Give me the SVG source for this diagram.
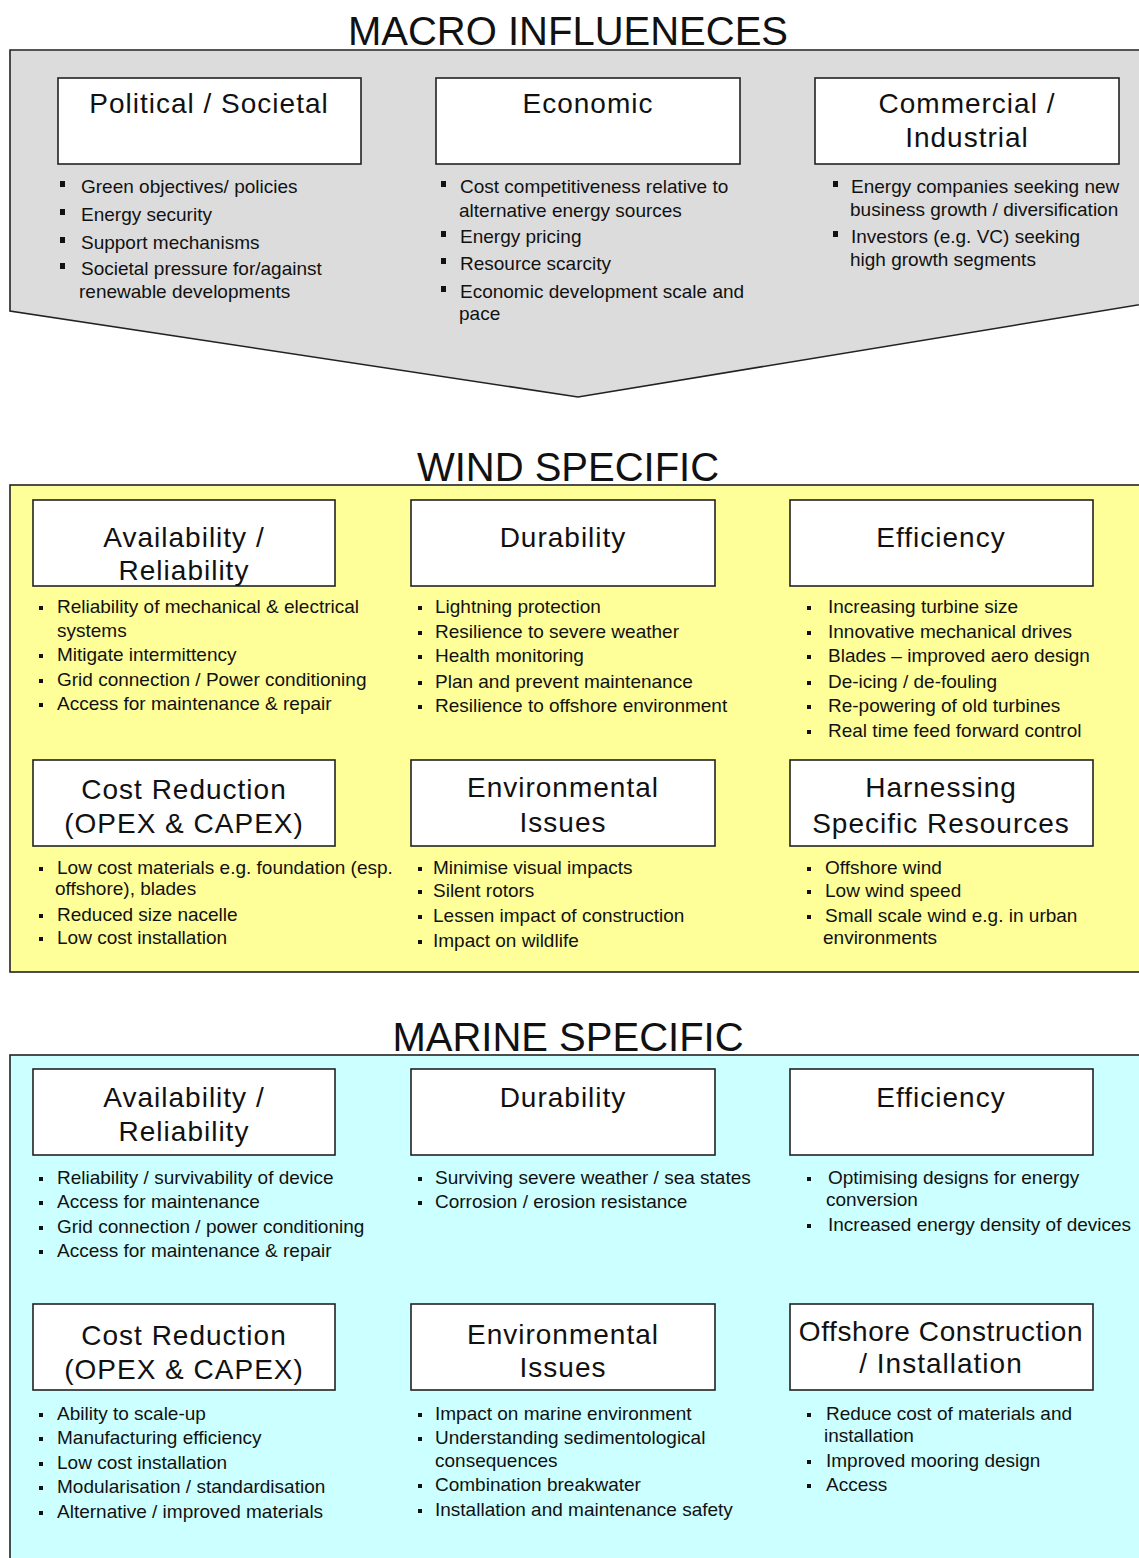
<svg xmlns="http://www.w3.org/2000/svg" width="1139" height="1558" viewBox="0 0 1139 1558">
<style>
text{font-family:"Liberation Sans",Arial,sans-serif;fill:#111}
.h{font-size:40px;text-anchor:middle}
.t{font-size:28px;text-anchor:middle;letter-spacing:1px}
.b{font-size:19px}
.box{fill:#fff;stroke:#222;stroke-width:1.6}
.sec{stroke:#222;stroke-width:1.6}
.d{fill:#111}
</style>
<rect width="1139" height="1558" fill="#fff"/>

<g id="macro">
<text class="h" x="568" y="45">MACRO INFLUENECES</text>
<polygon class="sec" fill="#DCDCDC" points="10,50 1150,50 1150,303 578,397 10,311"/>
</g>

<g id="macro-political">
<rect class="box" x="58" y="78" width="303" height="86"/>
<text class="t" x="209" y="113">Political / Societal</text>
<rect class="d" x="60" y="181" width="5" height="6"/>
<rect class="d" x="60" y="209" width="5" height="6"/>
<rect class="d" x="60" y="237" width="5" height="6"/>
<rect class="d" x="60" y="263" width="5" height="6"/>
<text class="b" x="81" y="193">Green objectives/ policies</text>
<text class="b" x="81" y="221">Energy security</text>
<text class="b" x="81" y="249">Support mechanisms</text>
<text class="b" x="81" y="275">Societal pressure for/against</text>
<text class="b" x="79" y="298">renewable developments</text>
</g>

<g id="macro-economic">
<rect class="box" x="436" y="78" width="304" height="86"/>
<text class="t" x="588" y="113">Economic</text>
<rect class="d" x="441" y="181" width="5" height="6"/>
<rect class="d" x="441" y="231" width="5" height="6"/>
<rect class="d" x="441" y="258" width="5" height="6"/>
<rect class="d" x="441" y="286" width="5" height="6"/>
<text class="b" x="460" y="193">Cost  competitiveness relative to</text>
<text class="b" x="459" y="217">alternative energy sources</text>
<text class="b" x="460" y="243">Energy pricing</text>
<text class="b" x="460" y="270">Resource scarcity</text>
<text class="b" x="460" y="298">Economic development  scale and</text>
<text class="b" x="459" y="320">pace</text>
</g>

<g id="macro-commercial">
<rect class="box" x="815" y="78" width="304" height="86"/>
<text class="t" x="967" y="113">Commercial /</text>
<text class="t" x="967" y="147">Industrial</text>
<rect class="d" x="833" y="181" width="5" height="6"/>
<rect class="d" x="833" y="231" width="5" height="6"/>
<text class="b" x="851" y="193">Energy companies seeking new</text>
<text class="b" x="850" y="216">business growth / diversification</text>
<text class="b" x="851" y="243">Investors (e.g. VC) seeking</text>
<text class="b" x="850" y="266">high growth segments</text>
</g>

<g id="wind">
<text class="h" x="568" y="481">WIND SPECIFIC</text>
<rect class="sec" fill="#FFFF99" x="10" y="485" width="1140" height="487"/>
</g>

<g id="wind-availability">
<rect class="box" x="33" y="500" width="302" height="86"/>
<text class="t" x="184" y="547">Availability /</text>
<text class="t" x="184" y="580">Reliability</text>
<rect class="d" x="39" y="606" width="4" height="4"/>
<rect class="d" x="39" y="654" width="4" height="4"/>
<rect class="d" x="39" y="679" width="4" height="4"/>
<rect class="d" x="39" y="703" width="4" height="4"/>
<text class="b" x="57" y="613">Reliability of mechanical &amp; electrical</text>
<text class="b" x="57" y="637">systems</text>
<text class="b" x="57" y="661">Mitigate intermittency</text>
<text class="b" x="57" y="686">Grid connection / Power conditioning</text>
<text class="b" x="57" y="710">Access for maintenance &amp; repair</text>
</g>

<g id="wind-durability">
<rect class="box" x="411" y="500" width="304" height="86"/>
<text class="t" x="563" y="547">Durability</text>
<rect class="d" x="418" y="606" width="4" height="4"/>
<rect class="d" x="418" y="631" width="4" height="4"/>
<rect class="d" x="418" y="655" width="4" height="4"/>
<rect class="d" x="418" y="681" width="4" height="4"/>
<rect class="d" x="418" y="705" width="4" height="4"/>
<text class="b" x="435" y="613">Lightning protection</text>
<text class="b" x="435" y="638">Resilience to severe weather</text>
<text class="b" x="435" y="662">Health monitoring</text>
<text class="b" x="435" y="688">Plan and prevent maintenance</text>
<text class="b" x="435" y="712">Resilience to offshore environment</text>
</g>

<g id="wind-efficiency">
<rect class="box" x="790" y="500" width="303" height="86"/>
<text class="t" x="941" y="547">Efficiency</text>
<rect class="d" x="807" y="606" width="4" height="4"/>
<rect class="d" x="807" y="631" width="4" height="4"/>
<rect class="d" x="807" y="655" width="4" height="4"/>
<rect class="d" x="807" y="681" width="4" height="4"/>
<rect class="d" x="807" y="705" width="4" height="4"/>
<rect class="d" x="807" y="730" width="4" height="4"/>
<text class="b" x="828" y="613">Increasing turbine size</text>
<text class="b" x="828" y="638">Innovative mechanical drives</text>
<text class="b" x="828" y="662">Blades – improved aero design</text>
<text class="b" x="828" y="688">De-icing / de-fouling</text>
<text class="b" x="828" y="712">Re-powering of old turbines</text>
<text class="b" x="828" y="737">Real time feed forward control</text>
</g>

<g id="wind-cost">
<rect class="box" x="33" y="760" width="302" height="86"/>
<text class="t" x="184" y="799">Cost Reduction</text>
<text class="t" x="184" y="833">(OPEX &amp; CAPEX)</text>
<rect class="d" x="39" y="867" width="4" height="4"/>
<rect class="d" x="39" y="914" width="4" height="4"/>
<rect class="d" x="39" y="937" width="4" height="4"/>
<text class="b" x="57" y="874">Low cost materials e.g.  foundation (esp.</text>
<text class="b" x="55" y="895">offshore), blades</text>
<text class="b" x="57" y="921">Reduced size nacelle</text>
<text class="b" x="57" y="944">Low cost installation</text>
</g>

<g id="wind-environmental">
<rect class="box" x="411" y="760" width="304" height="86"/>
<text class="t" x="563" y="797">Environmental</text>
<text class="t" x="563" y="832">Issues</text>
<rect class="d" x="418" y="867" width="4" height="4"/>
<rect class="d" x="418" y="890" width="4" height="4"/>
<rect class="d" x="418" y="915" width="4" height="4"/>
<rect class="d" x="418" y="940" width="4" height="4"/>
<text class="b" x="433" y="874">Minimise visual impacts</text>
<text class="b" x="433" y="897">Silent rotors</text>
<text class="b" x="433" y="922">Lessen impact of construction</text>
<text class="b" x="433" y="947">Impact on wildlife</text>
</g>

<g id="wind-harnessing">
<rect class="box" x="790" y="760" width="303" height="86"/>
<text class="t" x="941" y="797">Harnessing</text>
<text class="t" x="941" y="833">Specific Resources</text>
<rect class="d" x="807" y="867" width="4" height="4"/>
<rect class="d" x="807" y="890" width="4" height="4"/>
<rect class="d" x="807" y="915" width="4" height="4"/>
<text class="b" x="825" y="874">Offshore wind</text>
<text class="b" x="825" y="897">Low wind speed</text>
<text class="b" x="825" y="922">Small scale wind e.g. in urban</text>
<text class="b" x="823" y="944">environments</text>
</g>

<g id="marine">
<text class="h" x="568" y="1051">MARINE SPECIFIC</text>
<rect class="sec" fill="#CCFFFF" x="10" y="1055" width="1140" height="520"/>
</g>

<g id="marine-availability">
<rect class="box" x="33" y="1069" width="302" height="86"/>
<text class="t" x="184" y="1107">Availability /</text>
<text class="t" x="184" y="1141">Reliability</text>
<rect class="d" x="39" y="1177" width="4" height="4"/>
<rect class="d" x="39" y="1201" width="4" height="4"/>
<rect class="d" x="39" y="1226" width="4" height="4"/>
<rect class="d" x="39" y="1250" width="4" height="4"/>
<text class="b" x="57" y="1184">Reliability / survivability of device</text>
<text class="b" x="57" y="1208">Access for maintenance</text>
<text class="b" x="57" y="1233">Grid connection / power conditioning</text>
<text class="b" x="57" y="1257">Access for maintenance &amp; repair</text>
</g>

<g id="marine-durability">
<rect class="box" x="411" y="1069" width="304" height="86"/>
<text class="t" x="563" y="1107">Durability</text>
<rect class="d" x="418" y="1177" width="4" height="4"/>
<rect class="d" x="418" y="1201" width="4" height="4"/>
<text class="b" x="435" y="1184">Surviving severe weather / sea states</text>
<text class="b" x="435" y="1208">Corrosion / erosion resistance</text>
</g>

<g id="marine-efficiency">
<rect class="box" x="790" y="1069" width="303" height="86"/>
<text class="t" x="941" y="1107">Efficiency</text>
<rect class="d" x="807" y="1177" width="4" height="4"/>
<rect class="d" x="807" y="1224" width="4" height="4"/>
<text class="b" x="828" y="1184">Optimising designs for energy</text>
<text class="b" x="826" y="1206">conversion</text>
<text class="b" x="828" y="1231">Increased energy density of devices</text>
</g>

<g id="marine-cost">
<rect class="box" x="33" y="1304" width="302" height="86"/>
<text class="t" x="184" y="1345">Cost Reduction</text>
<text class="t" x="184" y="1379">(OPEX &amp; CAPEX)</text>
<rect class="d" x="39" y="1413" width="4" height="4"/>
<rect class="d" x="39" y="1437" width="4" height="4"/>
<rect class="d" x="39" y="1462" width="4" height="4"/>
<rect class="d" x="39" y="1486" width="4" height="4"/>
<rect class="d" x="39" y="1511" width="4" height="4"/>
<text class="b" x="57" y="1420">Ability to scale-up</text>
<text class="b" x="57" y="1444">Manufacturing efficiency</text>
<text class="b" x="57" y="1469">Low cost installation</text>
<text class="b" x="57" y="1493">Modularisation / standardisation</text>
<text class="b" x="57" y="1518">Alternative / improved materials</text>
</g>

<g id="marine-environmental">
<rect class="box" x="411" y="1304" width="304" height="86"/>
<text class="t" x="563" y="1344">Environmental</text>
<text class="t" x="563" y="1377">Issues</text>
<rect class="d" x="418" y="1413" width="4" height="4"/>
<rect class="d" x="418" y="1437" width="4" height="4"/>
<rect class="d" x="418" y="1484" width="4" height="4"/>
<rect class="d" x="418" y="1509" width="4" height="4"/>
<text class="b" x="435" y="1420">Impact on marine environment</text>
<text class="b" x="435" y="1444">Understanding sedimentological</text>
<text class="b" x="435" y="1467">consequences</text>
<text class="b" x="435" y="1491">Combination breakwater</text>
<text class="b" x="435" y="1516">Installation and maintenance safety</text>
</g>

<g id="marine-offshore">
<rect class="box" x="790" y="1304" width="303" height="86"/>
<text class="t" x="941" y="1341" style="letter-spacing:0.6px">Offshore Construction</text>
<text class="t" x="941" y="1373">/ Installation</text>
<rect class="d" x="807" y="1413" width="4" height="4"/>
<rect class="d" x="807" y="1460" width="4" height="4"/>
<rect class="d" x="807" y="1484" width="4" height="4"/>
<text class="b" x="826" y="1420">Reduce cost of materials and</text>
<text class="b" x="824" y="1442">installation</text>
<text class="b" x="826" y="1467">Improved mooring design</text>
<text class="b" x="826" y="1491">Access</text>
</g>

<g id="connectors"></g>
</svg>
